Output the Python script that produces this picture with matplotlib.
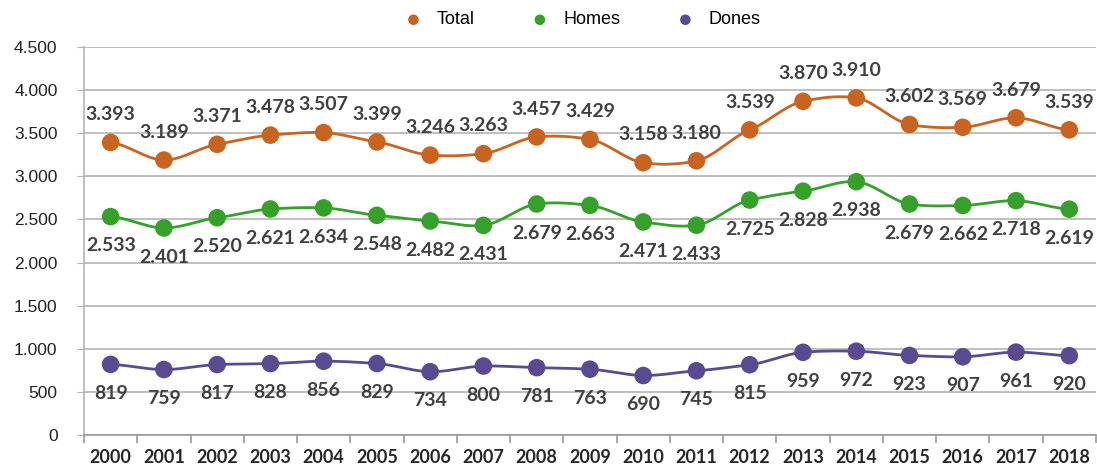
import matplotlib
matplotlib.use("Agg")
import matplotlib.pyplot as plt
import numpy as np
from matplotlib.ticker import FuncFormatter, MultipleLocator, FixedLocator

years = [str(y) for y in range(2000, 2019)]
total = [3393, 3189, 3371, 3478, 3507, 3399, 3246, 3263, 3457, 3429, 3158, 3180, 3539, 3870, 3910, 3602, 3569, 3679, 3539]
homes = [2533, 2401, 2520, 2621, 2634, 2548, 2482, 2431, 2679, 2663, 2471, 2433, 2725, 2828, 2938, 2679, 2662, 2718, 2619]
dones = [819, 759, 817, 828, 856, 829, 734, 800, 781, 763, 690, 745, 815, 959, 972, 923, 907, 961, 920]

series = [("Total", total, "#C8641F", 1), ("Homes", homes, "#35A02A", -1), ("Dones", dones, "#5A4A92", -1)]

def fmt(v):
    return f"{int(v):,}".replace(",", ".")

def smooth(x, y, n=20, k=0.7):
    x = np.asarray(x, float); y = np.asarray(y, float)
    px, py = [], []
    m = len(x)
    for i in range(m - 1):
        p0 = y[max(i - 1, 0)]; p1 = y[i]; p2 = y[i + 1]; p3 = y[min(i + 2, m - 1)]
        t = np.linspace(0, 1, n, endpoint=(i == m - 2))
        m1 = (p2 - p0) / 2 * k
        m2 = (p3 - p1) / 2 * k
        h00 = 2*t**3 - 3*t**2 + 1; h10 = t**3 - 2*t**2 + t
        h01 = -2*t**3 + 3*t**2; h11 = t**3 - t**2
        py.extend(h00*p1 + h10*m1 + h01*p2 + h11*m2)
        px.extend(x[i] + t*(x[i+1]-x[i]))
    return np.array(px), np.array(py)

fig = plt.figure(figsize=(10.97, 4.67), dpi=100)
ax = fig.add_axes([84/1097, 1-435/467, 1-84/1097 - 0.001, (435-47)/467])
x = np.arange(len(years))
for name, vals, col, side in series:
    sx, sy = smooth(x, vals)
    ax.plot(sx, sy, color=col, lw=2, zorder=3)
    ax.scatter(x, vals, s=160, color=col, zorder=4, label=name, edgecolors="none")
    for xi, v in zip(x, vals):
        off = 20 if side > 0 else -21
        ax.annotate(fmt(v), (xi, v), xytext=(0, off), textcoords="offset points",
                    ha="center", va="center", fontsize=14, fontweight="bold",
                    family="Lato", color="#404040", zorder=5)

ax.set_xlim(-0.5, len(years) - 0.5)
ax.set_ylim(0, 4500)
ax.yaxis.set_major_locator(MultipleLocator(500))
ax.yaxis.set_major_formatter(FuncFormatter(lambda v, p: fmt(v)))
ax.grid(axis="y", color="#b4b4b4", lw=1.2)
ax.set_axisbelow(True)
ax.xaxis.set_major_locator(FixedLocator(x))
ax.set_xticklabels(years)
ax.xaxis.set_minor_locator(FixedLocator(np.arange(-0.5, len(years), 1)))
ax.tick_params(axis="x", which="major", length=0, labelsize=13, pad=10, labelcolor="#262626")
ax.tick_params(axis="x", which="minor", length=6, color="#999999", width=1.2)
ax.tick_params(axis="y", length=5, color="#b4b4b4", labelsize=12.5, labelcolor="#222222", pad=14)
for lab in ax.get_xticklabels():
    lab.set_fontweight("bold"); lab.set_family("Lato")
for lab in ax.get_yticklabels():
    lab.set_family("Liberation Sans")
for s in ["top", "right"]:
    ax.spines[s].set_visible(False)
ax.spines["left"].set_color("#b4b4b4"); ax.spines["left"].set_linewidth(1.2)
ax.spines["bottom"].set_color("#999999"); ax.spines["bottom"].set_linewidth(1.2)

leg = fig.legend(loc="center", bbox_to_anchor=(0.527, 1-20/467), ncol=3, frameon=False,
                 prop={"family": "Liberation Sans", "size": 13}, markerscale=0.6,
                 handletextpad=0.3, columnspacing=2.6)
fig.savefig("out.png", dpi=100)
